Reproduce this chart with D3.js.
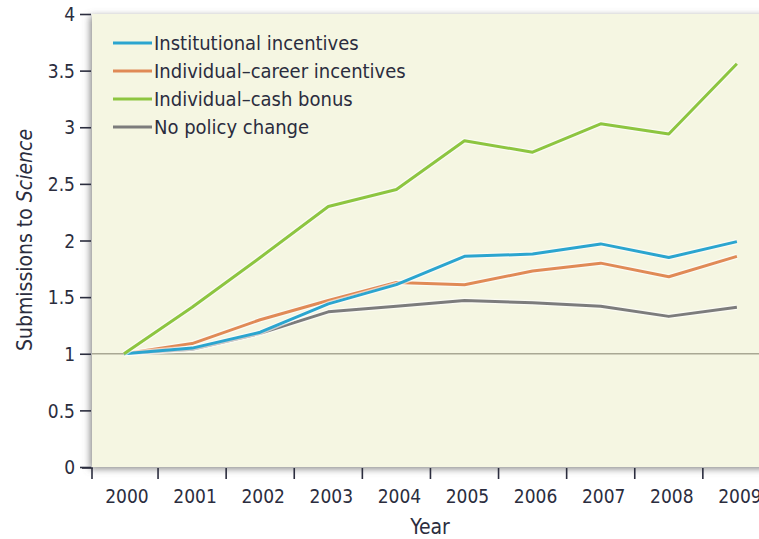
<!DOCTYPE html>
<html>
<head>
<meta charset="utf-8">
<script src="https://cdn.jsdelivr.net/npm/d3@7"></script>
<style>
  body { margin: 0; background: #fff; }
  svg text { font-family: "Liberation Sans Narrow", "DejaVu Sans Condensed", "Open Sans", sans-serif; fill: #2b2d3e; }
</style>
</head>
<body>
<div id="chart"></div>
<script>
  var years = [2000, 2001, 2002, 2003, 2004, 2005, 2006, 2007, 2008, 2009];
  var yTicks = [0, 0.5, 1, 1.5, 2, 2.5, 3, 3.5, 4];
  var seriesNames = ["Institutional incentives", "Individual\u2013career incentives", "Individual\u2013cash bonus", "No policy change"];
  var seriesColors = ["#2ba5cf", "#e08a56", "#8dc540", "#7c7c7c"];

  var institutional = [1.0, 1.05, 1.19, 1.44, 1.61, 1.86, 1.88, 1.97, 1.85, 1.99];
  var career = [1.0, 1.09, 1.30, 1.47, 1.63, 1.61, 1.73, 1.80, 1.68, 1.86];
  var cash = [1.0, 1.41, 1.85, 2.30, 2.45, 2.88, 2.78, 3.03, 2.94, 3.56];
  var noChange = [1.0, 1.04, 1.18, 1.37, 1.42, 1.47, 1.45, 1.42, 1.33, 1.41];

  var allSeries = [institutional, career, cash, noChange];
  var drawOrder = [3, 1, 0, 2];

  var W = 759, H = 539;
  var plotLeft = 92, plotTop = 14, plotBottom = 467;
  var step = 68.1;

  var svg = d3.select('#chart').append('svg')
    .attr('width', W)
    .attr('height', H);

  var defs = svg.append('defs');
  var shadow = defs.append('filter').attr('id', 'shadow')
    .attr('x', '-10%').attr('y', '-10%').attr('width', '130%').attr('height', '130%');
  shadow.append('feDropShadow')
    .attr('dx', -2).attr('dy', 2)
    .attr('stdDeviation', 3.5)
    .attr('flood-color', '#777')
    .attr('flood-opacity', 0.85);

  var x = d3.scaleLinear()
    .domain([2000, 2009])
    .range([plotLeft + 32, plotLeft + 32 + 9 * step]);

  var y = d3.scaleLinear()
    .domain([0, 4])
    .range([plotBottom, plotTop]);

  // panel
  svg.append('rect')
    .attr('x', plotLeft)
    .attr('y', plotTop)
    .attr('width', W + 40 - plotLeft)
    .attr('height', plotBottom - plotTop)
    .attr('fill', '#f5f6e2')
    .attr('filter', 'url(#shadow)');

  // reference line at 1
  svg.append('line')
    .attr('x1', plotLeft).attr('x2', W)
    .attr('y1', y(1)).attr('y2', y(1))
    .attr('stroke', '#a9a894')
    .attr('stroke-width', 1.3);

  // y axis
  var yAxis = d3.axisLeft(y)
    .tickValues(yTicks)
    .tickSize(11)
    .tickPadding(5)
    .tickFormat(function(d) { return d; });

  var yg = svg.append('g')
    .attr('transform', 'translate(' + (plotLeft - 1) + ',0)')
    .call(yAxis);
  yg.select('.domain').remove();
  yg.selectAll('line').attr('stroke', '#2b2d3e').attr('stroke-width', 1.6);
  yg.selectAll('text').style('font-size', '19px').attr('dy', '0.35em');

  // x axis, ticks sit between years
  var xTickPos = [plotLeft].concat(years.map(function(d) { return x(d) + step / 2; }));
  svg.append('g').selectAll('line')
    .data(xTickPos)
    .enter()
    .append('line')
    .attr('x1', function(d) { return d; })
    .attr('x2', function(d) { return d; })
    .attr('y1', plotBottom + 1)
    .attr('y2', plotBottom + 12)
    .attr('stroke', '#2b2d3e')
    .attr('stroke-width', 1.6);
  svg.append('line')
    .attr('x1', plotLeft - 10).attr('x2', plotLeft + 0.8)
    .attr('y1', plotBottom + 1).attr('y2', plotBottom + 1)
    .attr('stroke', '#2b2d3e')
    .attr('stroke-width', 1.6);

  svg.append('g').selectAll('text')
    .data(years)
    .enter()
    .append('text')
    .attr('x', function(d) { return x(d) + 3; })
    .attr('y', 503)
    .attr('text-anchor', 'middle')
    .style('font-size', '19px')
    .text(function(d) { return d; });

  svg.append('text')
    .attr('x', 430)
    .attr('y', 534)
    .attr('text-anchor', 'middle')
    .style('font-size', '21px')
    .text('Year');

  var yTitle = svg.append('text')
    .attr('transform', 'translate(32,240) rotate(-90)')
    .attr('text-anchor', 'middle')
    .style('font-size', '21px');
  yTitle.append('tspan').text('Submissions to ');
  yTitle.append('tspan').style('font-style', 'italic').text('Science');

  // lines
  var line = d3.line()
    .x(function(d, i) { return x(years[i]); })
    .y(function(d) { return y(d); });

  var lines = svg.append('g');
  drawOrder.forEach(function(k) {
    lines.append('path')
      .attr('d', line(allSeries[k]))
      .attr('fill', 'none')
      .attr('stroke', '#ffffff')
      .attr('stroke-opacity', 0.6)
      .attr('stroke-width', 5.5)
      .attr('stroke-linejoin', 'round');
    lines.append('path')
      .attr('d', line(allSeries[k]))
      .attr('fill', 'none')
      .attr('stroke', seriesColors[k])
      .attr('stroke-width', 3)
      .attr('stroke-linejoin', 'round');
  });

  // legend
  var legend = svg.append('g');
  seriesNames.forEach(function(name, i) {
    var ly = 43 + i * 28;
    legend.append('line')
      .attr('x1', 113).attr('x2', 152)
      .attr('y1', ly).attr('y2', ly)
      .attr('stroke', seriesColors[i])
      .attr('stroke-width', 3);
    legend.append('text')
      .attr('x', 154)
      .attr('y', ly)
      .attr('dy', '0.35em')
      .style('font-size', '20px')
      .text(name);
  });
</script>
</body>
</html>
